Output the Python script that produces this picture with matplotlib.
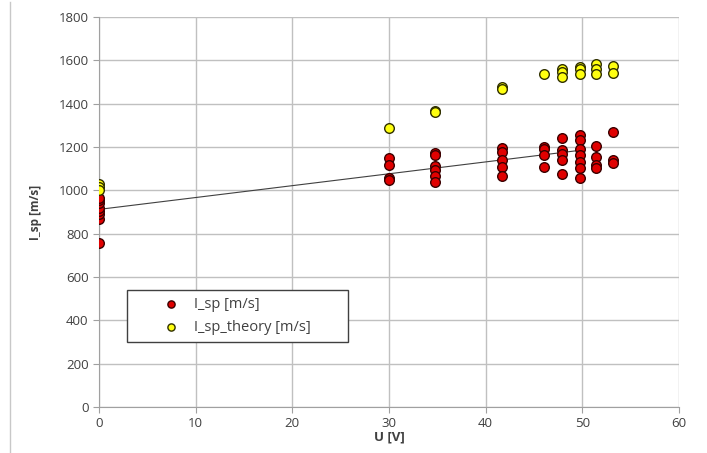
import matplotlib.pyplot as plt
from matplotlib.lines import Line2D
from matplotlib.patches import Rectangle

# measured specific impulse vs. voltage
u_sp = [0, 0, 0, 0, 0, 0, 0, 0,
        30, 30, 30, 30,
        34.8, 34.8, 34.8, 34.8, 34.8, 34.8,
        41.7, 41.7, 41.7, 41.7, 41.7,
        46.0, 46.0, 46.0, 46.0,
        47.9, 47.9, 47.9, 47.9, 47.9,
        49.8, 49.8, 49.8, 49.8, 49.8, 49.8, 49.8,
        51.4, 51.4, 51.4, 51.4,
        53.2, 53.2, 53.2]
i_sp = [757, 870, 890, 905, 920, 940, 955, 965,
        1150, 1117, 1057, 1048,
        1172, 1163, 1112, 1094, 1066, 1040,
        1195, 1177, 1140, 1108, 1066,
        1200, 1190, 1163, 1107,
        1241, 1186, 1167, 1140, 1075,
        1255, 1232, 1190, 1163, 1131, 1103, 1057,
        1204, 1154, 1117, 1103,
        1269, 1140, 1126]

# theoretical values
u_th = [0, 0, 0, 30, 34.8, 34.8, 41.7, 41.7,
        46.0, 47.9, 47.9, 47.9, 49.8, 49.8, 49.8,
        51.4, 51.4, 51.4, 53.2, 53.2]
i_th = [1030, 1015, 1000, 1288, 1368, 1360, 1477, 1467,
        1537, 1562, 1548, 1525, 1568, 1558, 1537,
        1585, 1562, 1537, 1575, 1543]

# linear trend line
trend_u = [0, 50]
trend_i = [912, 1186]

plt.rcParams['font.family'] = ['Open Sans', 'DejaVu Sans']

fig = plt.figure(figsize=(7.07, 4.53), dpi=100)
ax = fig.add_axes([0.140, 0.1015, 0.8204, 0.861])

fig.add_artist(Line2D([0.014, 0.014], [0.0, 0.995], transform=fig.transFigure,
                      color='#c8c8c8', lw=1))

ax.plot(trend_u, trend_i, color='#404040', lw=0.8, zorder=2)
ax.scatter(u_sp, i_sp, s=48, c='#e00000', edgecolors='#3a0000', linewidths=1.0,
           label='I_sp [m/s]', zorder=3)
ax.scatter(u_th, i_th, s=48, c='#ffff10', edgecolors='#303000', linewidths=1.0,
           label='I_sp_theory [m/s]', zorder=3)

ax.set_xlim(0, 60)
ax.set_ylim(0, 1800)
ax.set_xticks(range(0, 61, 10))
ax.set_yticks(range(0, 1801, 200))
ax.grid(True, color='#c0c0c0', lw=1)
ax.set_axisbelow(True)
for side in ['top', 'right']:
    ax.spines[side].set_visible(False)
for side in ['left', 'bottom']:
    ax.spines[side].set_color('#a0a0a0')
ax.tick_params(axis='both', direction='out', length=4, color='#a0a0a0',
               labelsize=9.5, labelcolor='#404040')
ax.set_xlabel('U [V]', fontsize=9.5, fontweight='bold', color='#404040', labelpad=0)
ax.set_ylabel('I_sp [m/s]', fontsize=8.5, fontweight='bold', color='#404040', labelpad=12)

# legend box
box = Rectangle((0.0483, 0.1667), 0.381, 0.1333, transform=ax.transAxes,
                facecolor='white', edgecolor='#404040', lw=1.0, zorder=4)
ax.add_patch(box)
leg = ax.legend(loc='center left', bbox_to_anchor=(0.1034, 0.2333), fontsize=10.5,
                frameon=False, markerscale=0.75, handlelength=1.6,
                handletextpad=0.8, borderpad=0, labelspacing=0.55,
                borderaxespad=0)
leg.set_zorder(5)
for t in leg.get_texts():
    t.set_color('#404040')

fig.savefig('out.png', dpi=100)
